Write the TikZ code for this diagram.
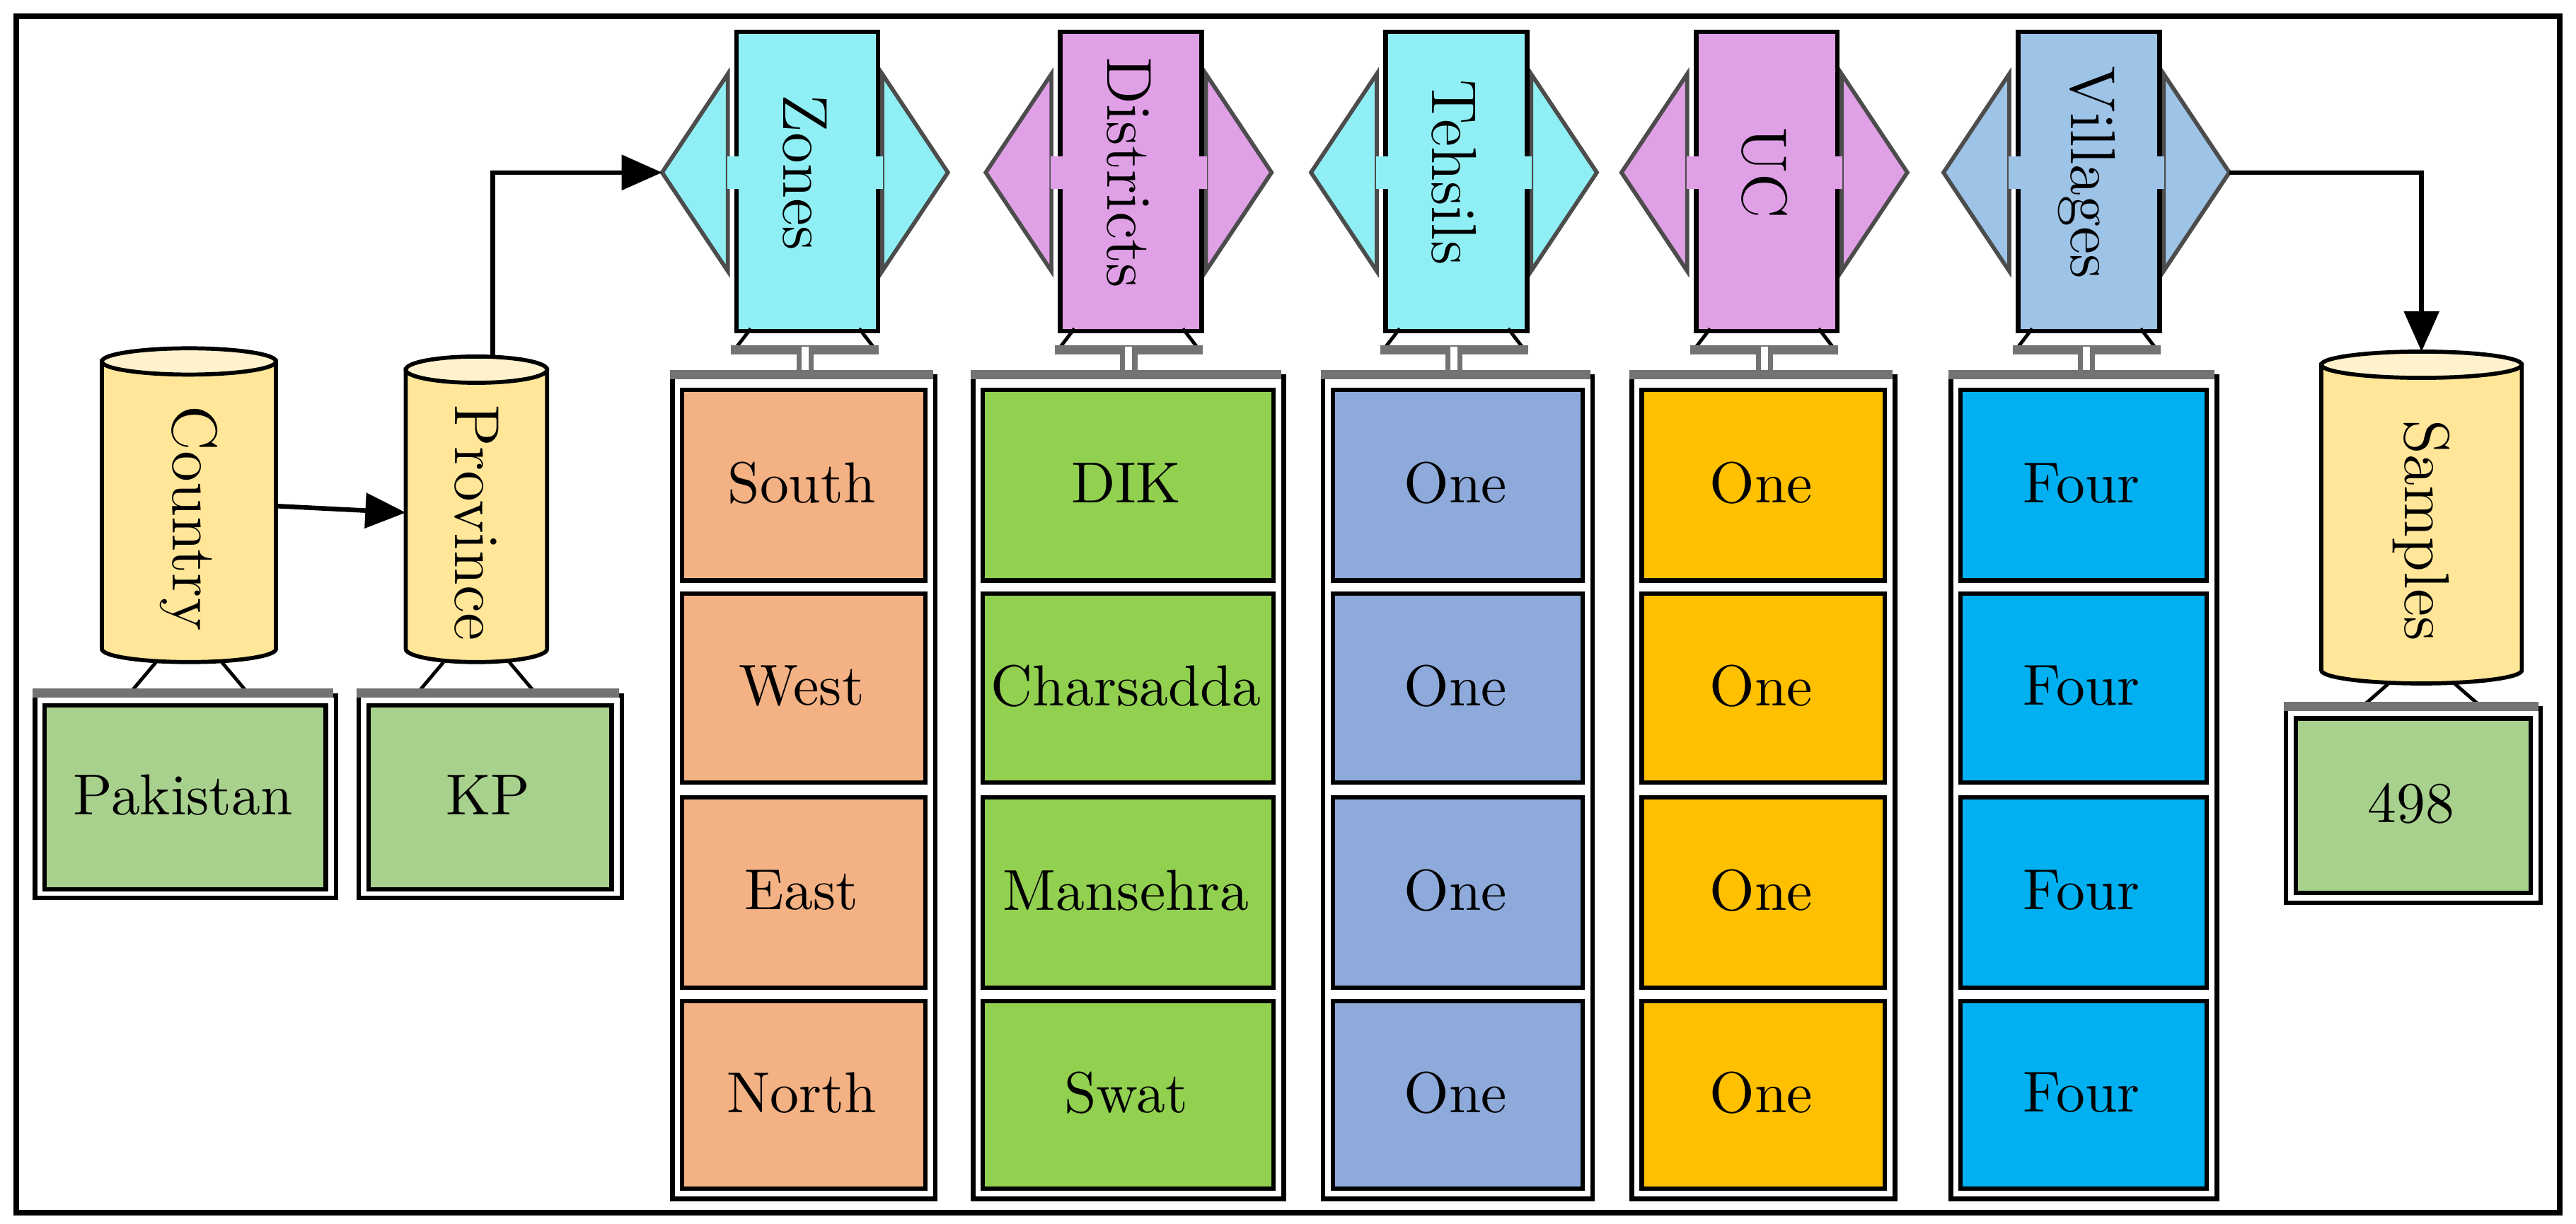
\documentclass[tikz,border=0pt]{standalone}
\usetikzlibrary{arrows.meta}
\definecolor{cyanA}{RGB}{143,239,244}
\definecolor{purA}{RGB}{224,160,230}
\definecolor{vilA}{RGB}{157,195,230}
\definecolor{oraB}{RGB}{244,177,131}
\definecolor{grnB}{RGB}{146,208,80}
\definecolor{bluB}{RGB}{142,170,219}
\definecolor{yelB}{RGB}{255,192,0}
\definecolor{skyB}{RGB}{0,176,240}
\definecolor{cylY}{RGB}{255,230,153}
\definecolor{cylT}{RGB}{255,242,204}
\definecolor{pakG}{RGB}{169,209,142}
\tikzset{
  box/.style={draw=black,line width=0.75pt,inner sep=0pt,anchor=north west},
  txt/.style={font=\fontsize{10}{12}\selectfont},
  tri/.style={draw=black!70,line width=0.7pt},
  grayband/.style={draw=black!55,line width=1.6pt},
  arr/.style={line width=0.8pt,-{Triangle[length=7pt,width=6pt]}},
  lab/.style={rotate=-90,font=\fontsize{11}{13}\selectfont},
}
\newcommand\mybox[7]{% name, x1,y1,x2,y2, fill, text
  \node[box,fill=#6,minimum width={((#4)-(#2))*0.01cm},minimum height={((#5)-(#3))*0.01cm}] (#1) at (#2,#3) {};
  \node[txt] at ({((#2)+(#4))/2},{((#3)+(#5))/2}) {#7};}
\newcommand\mycol[9]{% id, rx1, label, fill, cx1, cx2, boxfill, t1, t2
  \def\cxa{#5}\def\cxb{#6}
  \fill[#4,tri] (#2-4,45)--(#2-44,105)--(#2-4,165)--cycle;
  \fill[#4,tri] (#2+90,45)--(#2+130,105)--(#2+90,165)--cycle;
  \node[draw=black,line width=0.8pt,fill=#4,minimum width=0.86cm,minimum height=1.82cm,anchor=north west,inner sep=0pt] (#1) at (#2,18) {};
  \fill[#4] (#2-4.5,95) rectangle (#2+90.5,115);
  \node[lab] at (#2+43,105) {#3};
  \coordinate (#1L) at (#2-44,105);
  \coordinate (#1R) at (#2+130,105);
  \draw[black,line width=0.6pt] (#2+10,200)--(#2,213) (#2+76,200)--(#2+86,213);
  \draw[grayband] (#2-2,213)--(#2+88,213);
  \draw[black!55,line width=3pt] (#2+43,213)--(#2+43,229);
  \draw[white,line width=1.2pt] (#2+43,211)--(#2+43,229);
  \node[draw=black,line width=0.8pt,minimum width={((#6)-(#5))*0.01cm},minimum height=5cm,anchor=north west,inner sep=0pt] (#1C) at (#5,228) {};
  \draw[grayband] (#5,228)--(#6,228);
  \mybox{#1a}{#5+6}{236}{#6-6}{352}{#7}{#8}
  \mybox{#1b}{#5+6}{360}{#6-6}{475}{#7}{#9}
}
\newcommand\colrest[4]{% id, boxfill, t3, t4
  \mybox{#1c}{\cxa+6}{484}{\cxb-6}{600}{#2}{#3}
  \mybox{#1d}{\cxa+6}{608}{\cxb-6}{722}{#2}{#4}}
\newcommand\cyl[6]{% name, x1, x2, ytop, ybot, label
  \pgfmathsetmacro\rxx{(#3-#2)/2}
  \fill[cylY,draw=black,line width=0.7pt] (#2,#4) -- (#2,#5) arc[start angle=180,end angle=0,x radius=\rxx,y radius=8] -- (#3,#4) -- cycle;
  \fill[cylT,draw=black,line width=0.7pt] ({(#2+#3)/2},#4) ellipse[x radius=\rxx,y radius=8];
  \node[lab] (#1) at ({(#2+#3)/2},{(#4+#5)/2+8}) {#6};
  \coordinate (#1T) at ({(#2+#3)/2},{#4-8});
}
\newcommand\stand[5]{% cx, ybot, ybar, x1, x2 of box
  \draw[black,line width=0.6pt] (#1-20,#2+8)--(#1-36,#3) (#1+20,#2+8)--(#1+36,#3);
  \draw[grayband] (#4,#3)--(#5,#3);
}
\begin{document}
\begin{tikzpicture}[x=0.01cm,y=-0.01cm,line join=miter]
\useasboundingbox (0,0) rectangle (1568,745);
\fill[white] (0,0) rectangle (1568,745);
\draw[line width=1pt] (10,10) rectangle (1558,738);
% left cylinders
\cyl{country}{62}{168}{220}{395}{Country}
\cyl{province}{247}{333}{225}{395}{Province}
\stand{115}{395}{422}{20}{203}
\stand{290}{395}{422}{217}{377}
\node[draw=black,line width=0.8pt,minimum width=1.83cm,minimum height=1.23cm,anchor=north west,inner sep=0pt] (pakC) at (20,422) {};
\node[draw=black,line width=0.8pt,minimum width=1.60cm,minimum height=1.23cm,anchor=north west,inner sep=0pt] (kpC) at (217,422) {};
\draw[grayband] (20,422)--(203,422) (217,422)--(377,422);
\mybox{pak}{26}{428}{197}{540}{pakG}{Pakistan}
\mybox{kp}{223}{428}{371}{540}{pakG}{KP}
% columns
\mycol{zones}{447}{Zones}{cyanA}{408}{568}{oraB}{South}{West}
\colrest{zones}{oraB}{East}{North}
\mycol{dist}{644}{Districts}{purA}{591}{780}{grnB}{DIK}{Charsadda}
\colrest{dist}{grnB}{Mansehra}{Swat}
\mycol{teh}{842}{Tehsils}{cyanA}{804}{968}{bluB}{One}{One}
\colrest{teh}{bluB}{One}{One}
\mycol{uc}{1031}{UC}{purA}{992}{1152}{yelB}{One}{One}
\colrest{uc}{yelB}{One}{One}
\mycol{vil}{1227}{Villages}{vilA}{1186}{1348}{skyB}{Four}{Four}
\colrest{vil}{skyB}{Four}{Four}
% samples
\cyl{samples}{1413}{1535}{222}{408}{Samples}
\stand{1474}{408}{430}{1390}{1545}
\node[draw=black,line width=0.8pt,minimum width=1.55cm,minimum height=1.18cm,anchor=north west,inner sep=0pt] (samC) at (1390,430) {};
\draw[grayband] (1390,430)--(1545,430);
\mybox{n498}{1396}{436}{1539}{542}{pakG}{498}
% connectors
\coordinate (cE) at (168,308);
\draw[arr] (cE) -- (247,312);
\coordinate (pT) at (300,217);
\draw[arr] (pT) |- (zonesL);
\draw[arr] (vilR) -| (samplesT);
\end{tikzpicture}
\end{document}
